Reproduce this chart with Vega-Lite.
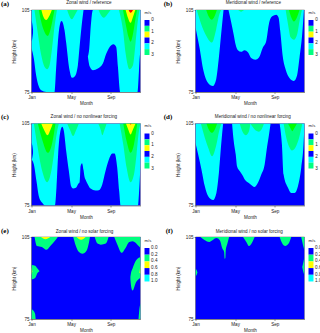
{"$schema":"https://vega.github.io/schema/vega-lite/v6.json","autosize":{"type":"none"},"padding":{"left":31.5,"top":10,"right":288.5,"bottom":323},"background":"white","columns":4,"bounds":"flush","spacing":{"column":4,"row":31.5},"align":"each",
"config":{"font":"Liberation Sans","view":{"stroke":"#555","strokeWidth":0.5},"axis":{"grid":false,"labelFont":"Liberation Sans","titleFont":"Liberation Sans","labelFontSize":4.6,"titleFontSize":4.6,"titleFontWeight":"normal","labelColor":"#222","titleColor":"#222","tickColor":"#333","domainColor":"#333","tickSize":1.5,"tickWidth":0.5,"domainWidth":0.5,"labelPadding":1}},
"datasets":{
"a":[
{"k":0,"r":"bg","m":1,"lo":75,"hi":105},{"k":0,"r":"bg","m":12,"lo":75,"hi":105},
{"k":0.5,"r":"c1","m":1,"lo":91,"hi":105},{"k":0.5,"r":"c1","m":1.24,"lo":87.2,"hi":105},{"k":0.5,"r":"c1","m":1.47,"lo":81,"hi":105},{"k":0.5,"r":"c1","m":1.74,"lo":77,"hi":105},{"k":0.5,"r":"c1","m":1.98,"lo":75.6,"hi":105},{"k":0.5,"r":"c1","m":2.5,"lo":75,"hi":105},{"k":0.5,"r":"c1","m":3.32,"lo":75,"hi":105},{"k":0.5,"r":"c1","m":3.49,"lo":84,"hi":105},{"k":0.5,"r":"c1","m":3.66,"lo":93,"hi":105},{"k":0.5,"r":"c1","m":3.83,"lo":99,"hi":105},{"k":0.5,"r":"c1","m":4.03,"lo":101,"hi":105},{"k":0.5,"r":"c1","m":4.33,"lo":97.7,"hi":105},{"k":0.5,"r":"c1","m":4.5,"lo":93,"hi":105},{"k":0.5,"r":"c1","m":4.84,"lo":83,"hi":105},{"k":0.5,"r":"c1","m":5.1,"lo":80.2,"hi":105},{"k":0.5,"r":"c1","m":5.38,"lo":80.8,"hi":105},{"k":0.5,"r":"c1","m":5.68,"lo":84.8,"hi":105},{"k":0.5,"r":"c1","m":5.85,"lo":91.5,"hi":105},{"k":0.5,"r":"c1","m":6.05,"lo":98.9,"hi":105},{"k":0.5,"r":"c1","m":6.25,"lo":105,"hi":105},
{"k":0.5,"r":"c2","m":6.69,"lo":87.9,"hi":87.9},{"k":0.5,"r":"c2","m":6.83,"lo":84.8,"hi":91},{"k":0.5,"r":"c2","m":6.93,"lo":84,"hi":96.4},{"k":0.5,"r":"c2","m":7.2,"lo":83,"hi":105},{"k":0.5,"r":"c2","m":7.7,"lo":83.6,"hi":105},{"k":0.5,"r":"c2","m":8.2,"lo":85.4,"hi":105},{"k":0.5,"r":"c2","m":8.54,"lo":89,"hi":105},{"k":0.5,"r":"c2","m":9.05,"lo":92.1,"hi":105},{"k":0.5,"r":"c2","m":9.28,"lo":92.5,"hi":105},{"k":0.5,"r":"c2","m":9.55,"lo":91.5,"hi":105},{"k":0.5,"r":"c2","m":9.72,"lo":84.2,"hi":105},{"k":0.5,"r":"c2","m":9.95,"lo":75,"hi":105},{"k":0.5,"r":"c2","m":11.7,"lo":75,"hi":105},{"k":0.5,"r":"c2","m":11.84,"lo":82.4,"hi":105},{"k":0.5,"r":"c2","m":11.9,"lo":86.6,"hi":105},{"k":0.5,"r":"c2","m":12,"lo":90.3,"hi":105},
{"k":0,"r":"b2","m":1,"lo":93.5,"hi":101.3},{"k":0,"r":"b2","m":1.08,"lo":94.5,"hi":100},{"k":0,"r":"b2","m":1.15,"lo":96.5,"hi":98},
{"k":1,"r":"s1","m":1.3,"lo":105,"hi":105},{"k":1,"r":"s1","m":1.64,"lo":96.4,"hi":105},{"k":1,"r":"s1","m":1.98,"lo":88.5,"hi":105},{"k":1,"r":"s1","m":2.31,"lo":84.2,"hi":105},{"k":1,"r":"s1","m":2.58,"lo":83.3,"hi":105},{"k":1,"r":"s1","m":2.82,"lo":84.8,"hi":105},{"k":1,"r":"s1","m":3.09,"lo":91.5,"hi":105},{"k":1,"r":"s1","m":3.32,"lo":98.9,"hi":105},{"k":1,"r":"s1","m":3.56,"lo":105,"hi":105},
{"k":1,"r":"s2","m":4.6,"lo":105,"hi":105},{"k":1,"r":"s2","m":4.8,"lo":103,"hi":105},{"k":1,"r":"s2","m":5.07,"lo":101.6,"hi":105},{"k":1,"r":"s2","m":5.35,"lo":103,"hi":105},{"k":1,"r":"s2","m":5.65,"lo":105,"hi":105},
{"k":1,"r":"s3","m":7.77,"lo":105,"hi":105},{"k":1,"r":"s3","m":8,"lo":103.2,"hi":105},{"k":1,"r":"s3","m":8.3,"lo":102.2,"hi":105},{"k":1,"r":"s3","m":8.6,"lo":103.2,"hi":105},{"k":1,"r":"s3","m":8.98,"lo":105,"hi":105},
{"k":1,"r":"s4","m":9.82,"lo":105,"hi":105},{"k":1,"r":"s4","m":10.23,"lo":97.7,"hi":105},{"k":1,"r":"s4","m":10.5,"lo":89.1,"hi":105},{"k":1,"r":"s4","m":10.9,"lo":83.3,"hi":105},{"k":1,"r":"s4","m":11.24,"lo":84.8,"hi":105},{"k":1,"r":"s4","m":11.5,"lo":92.8,"hi":105},{"k":1,"r":"s4","m":11.74,"lo":101.3,"hi":105},{"k":1,"r":"s4","m":11.9,"lo":105,"hi":105},
{"k":1.5,"r":"g1","m":1.74,"lo":105,"hi":105},{"k":1.5,"r":"g1","m":1.9,"lo":102,"hi":105},{"k":1.5,"r":"g1","m":2.2,"lo":98,"hi":105},{"k":1.5,"r":"g1","m":2.65,"lo":95.5,"hi":105},{"k":1.5,"r":"g1","m":2.85,"lo":97,"hi":105},{"k":1.5,"r":"g1","m":3.05,"lo":100,"hi":105},{"k":1.5,"r":"g1","m":3.32,"lo":105,"hi":105},
{"k":1.5,"r":"g2","m":10.23,"lo":105,"hi":105},{"k":1.5,"r":"g2","m":10.5,"lo":100,"hi":105},{"k":1.5,"r":"g2","m":10.8,"lo":95,"hi":105},{"k":1.5,"r":"g2","m":11,"lo":93.4,"hi":105},{"k":1.5,"r":"g2","m":11.2,"lo":95.5,"hi":105},{"k":1.5,"r":"g2","m":11.5,"lo":102,"hi":105},{"k":1.5,"r":"g2","m":11.65,"lo":105,"hi":105},
{"k":2,"r":"y1","m":2,"lo":105,"hi":105},{"k":2,"r":"y1","m":2.2,"lo":102.5,"hi":105},{"k":2,"r":"y1","m":2.48,"lo":101.3,"hi":105},{"k":2,"r":"y1","m":2.75,"lo":102.5,"hi":105},{"k":2,"r":"y1","m":3.05,"lo":105,"hi":105},
{"k":2,"r":"y2","m":10.5,"lo":105,"hi":105},{"k":2,"r":"y2","m":10.75,"lo":102,"hi":105},{"k":2,"r":"y2","m":11,"lo":100.3,"hi":105},{"k":2,"r":"y2","m":11.2,"lo":102,"hi":105},{"k":2,"r":"y2","m":11.47,"lo":105,"hi":105},
{"k":2.5,"r":"r1","m":10.8,"lo":105,"hi":105},{"k":2.5,"r":"r1","m":11,"lo":104,"hi":105},{"k":2.5,"r":"r1","m":11.25,"lo":105,"hi":105}
],
"b":[
{"k":0,"r":"bg","m":1,"lo":75,"hi":105},{"k":0,"r":"bg","m":12,"lo":75,"hi":105},
{"k":0.5,"r":"c1","m":1,"lo":98.6,"hi":105},{"k":0.5,"r":"c1","m":1.4,"lo":91.3,"hi":105},{"k":0.5,"r":"c1","m":1.81,"lo":82.7,"hi":105},{"k":0.5,"r":"c1","m":2.25,"lo":78.4,"hi":105},{"k":0.5,"r":"c1","m":2.75,"lo":77.2,"hi":105},{"k":0.5,"r":"c1","m":3.09,"lo":79.7,"hi":105},{"k":0.5,"r":"c1","m":3.36,"lo":87.6,"hi":105},{"k":0.5,"r":"c1","m":3.59,"lo":96.2,"hi":105},{"k":0.5,"r":"c1","m":3.83,"lo":105,"hi":105},
{"k":0.5,"r":"c2","m":4.33,"lo":105,"hi":105},{"k":0.5,"r":"c2","m":4.6,"lo":100.5,"hi":105},{"k":0.5,"r":"c2","m":4.84,"lo":96.2,"hi":105},{"k":0.5,"r":"c2","m":5.04,"lo":92.5,"hi":105},{"k":0.5,"r":"c2","m":5.28,"lo":90.3,"hi":105},{"k":0.5,"r":"c2","m":5.61,"lo":89.7,"hi":105},{"k":0.5,"r":"c2","m":5.95,"lo":90.3,"hi":105},{"k":0.5,"r":"c2","m":6.29,"lo":89.5,"hi":105},{"k":0.5,"r":"c2","m":6.62,"lo":87.4,"hi":105},{"k":0.5,"r":"c2","m":7.03,"lo":86.8,"hi":105},{"k":0.5,"r":"c2","m":7.4,"lo":87.6,"hi":105},{"k":0.5,"r":"c2","m":7.8,"lo":91.3,"hi":105},{"k":0.5,"r":"c2","m":8.14,"lo":93.7,"hi":105},{"k":0.5,"r":"c2","m":8.41,"lo":99.9,"hi":105},{"k":0.5,"r":"c2","m":8.74,"lo":102.7,"hi":105},{"k":0.5,"r":"c2","m":9.15,"lo":103.3,"hi":105},{"k":0.5,"r":"c2","m":9.38,"lo":102.3,"hi":105},{"k":0.5,"r":"c2","m":9.55,"lo":97.4,"hi":105},{"k":0.5,"r":"c2","m":9.82,"lo":87.6,"hi":105},{"k":0.5,"r":"c2","m":10.09,"lo":83.3,"hi":105},{"k":0.5,"r":"c2","m":10.5,"lo":80,"hi":105},{"k":0.5,"r":"c2","m":10.93,"lo":79,"hi":105},{"k":0.5,"r":"c2","m":11.24,"lo":80.9,"hi":105},{"k":0.5,"r":"c2","m":11.5,"lo":87.6,"hi":105},{"k":0.5,"r":"c2","m":11.77,"lo":96.2,"hi":105},{"k":0.5,"r":"c2","m":11.94,"lo":105,"hi":105},
{"k":1,"r":"s1","m":1.13,"lo":105,"hi":105},{"k":1,"r":"s1","m":1.57,"lo":99.9,"hi":105},{"k":1,"r":"s1","m":2.08,"lo":95.6,"hi":105},{"k":1,"r":"s1","m":2.65,"lo":93.1,"hi":105},{"k":1,"r":"s1","m":3.09,"lo":98,"hi":105},{"k":1,"r":"s1","m":3.42,"lo":103.5,"hi":105},{"k":1,"r":"s1","m":3.59,"lo":105,"hi":105},
{"k":1,"r":"s2","m":5.3,"lo":105,"hi":105},{"k":1,"r":"s2","m":5.6,"lo":104.4,"hi":105},{"k":1,"r":"s2","m":5.9,"lo":105,"hi":105},
{"k":1,"r":"s3","m":10.1,"lo":105,"hi":105},{"k":1,"r":"s3","m":10.33,"lo":99.9,"hi":105},{"k":1,"r":"s3","m":10.6,"lo":95,"hi":105},{"k":1,"r":"s3","m":10.93,"lo":94.1,"hi":105},{"k":1,"r":"s3","m":11.27,"lo":96.2,"hi":105},{"k":1,"r":"s3","m":11.5,"lo":101,"hi":105},{"k":1,"r":"s3","m":11.74,"lo":105,"hi":105},
{"k":1.5,"r":"g1","m":2.08,"lo":105,"hi":105},{"k":1.5,"r":"g1","m":2.35,"lo":102.5,"hi":105},{"k":1.5,"r":"g1","m":2.65,"lo":101.4,"hi":105},{"k":1.5,"r":"g1","m":2.9,"lo":102.5,"hi":105},{"k":1.5,"r":"g1","m":3.15,"lo":105,"hi":105},
{"k":1.5,"r":"g2","m":10.43,"lo":105,"hi":105},{"k":1.5,"r":"g2","m":10.7,"lo":102,"hi":105},{"k":1.5,"r":"g2","m":10.93,"lo":100.8,"hi":105},{"k":1.5,"r":"g2","m":11.2,"lo":102,"hi":105},{"k":1.5,"r":"g2","m":11.5,"lo":105,"hi":105}
],
"c":[
{"k":0,"r":"bg","m":1,"lo":75,"hi":105},{"k":0,"r":"bg","m":12,"lo":75,"hi":105},
{"k":0.5,"r":"c1","m":1,"lo":91.8,"hi":105},{"k":0.5,"r":"c1","m":1.24,"lo":90,"hi":105},{"k":0.5,"r":"c1","m":1.5,"lo":84,"hi":105},{"k":0.5,"r":"c1","m":1.74,"lo":78.4,"hi":105},{"k":0.5,"r":"c1","m":2.08,"lo":76,"hi":105},{"k":0.5,"r":"c1","m":2.4,"lo":75,"hi":105},{"k":0.5,"r":"c1","m":3.36,"lo":75,"hi":105},{"k":0.5,"r":"c1","m":3.52,"lo":81.5,"hi":105},{"k":0.5,"r":"c1","m":3.69,"lo":93.7,"hi":105},{"k":0.5,"r":"c1","m":3.86,"lo":101,"hi":105},{"k":0.5,"r":"c1","m":4.1,"lo":103.8,"hi":105},{"k":0.5,"r":"c1","m":4.27,"lo":102.2,"hi":105},{"k":0.5,"r":"c1","m":4.5,"lo":94.9,"hi":105},{"k":0.5,"r":"c1","m":4.77,"lo":87.6,"hi":105},{"k":0.5,"r":"c1","m":5,"lo":82,"hi":105},{"k":0.5,"r":"c1","m":5.2,"lo":81.2,"hi":105},{"k":0.5,"r":"c1","m":5.48,"lo":81.5,"hi":105},{"k":0.5,"r":"c1","m":5.71,"lo":82.9,"hi":105},{"k":0.5,"r":"c1","m":5.85,"lo":83.5,"hi":105},{"k":0.5,"r":"c1","m":5.9,"lo":86,"hi":105},{"k":0.5,"r":"c1","m":5.95,"lo":89.4,"hi":105},{"k":0.5,"r":"c1","m":6.1,"lo":90.5,"hi":105},{"k":0.5,"r":"c1","m":6.25,"lo":88,"hi":105},{"k":0.5,"r":"c1","m":6.35,"lo":85.5,"hi":105},{"k":0.5,"r":"c1","m":6.45,"lo":84.5,"hi":105},{"k":0.5,"r":"c1","m":6.69,"lo":82.7,"hi":105},{"k":0.5,"r":"c1","m":6.96,"lo":81.2,"hi":105},{"k":0.5,"r":"c1","m":7.46,"lo":80.5,"hi":105},{"k":0.5,"r":"c1","m":7.8,"lo":80.6,"hi":105},{"k":0.5,"r":"c1","m":8.14,"lo":82.7,"hi":105},{"k":0.5,"r":"c1","m":8.47,"lo":87.6,"hi":105},{"k":0.5,"r":"c1","m":8.81,"lo":91.8,"hi":105},{"k":0.5,"r":"c1","m":9.15,"lo":94,"hi":105},{"k":0.5,"r":"c1","m":9.38,"lo":94,"hi":105},{"k":0.5,"r":"c1","m":9.65,"lo":88.8,"hi":105},{"k":0.5,"r":"c1","m":9.85,"lo":80.2,"hi":105},{"k":0.5,"r":"c1","m":9.99,"lo":75,"hi":105},{"k":0.5,"r":"c1","m":11.74,"lo":75,"hi":105},{"k":0.5,"r":"c1","m":11.84,"lo":79,"hi":105},{"k":0.5,"r":"c1","m":12,"lo":90,"hi":105},
{"k":0,"r":"b2","m":1,"lo":91.8,"hi":98},{"k":0,"r":"b2","m":1.08,"lo":92.5,"hi":97},{"k":0,"r":"b2","m":1.15,"lo":94,"hi":95},
{"k":1,"r":"s1","m":1.24,"lo":105,"hi":105},{"k":1,"r":"s1","m":1.57,"lo":97.3,"hi":105},{"k":1,"r":"s1","m":2.08,"lo":87.6,"hi":105},{"k":1,"r":"s1","m":2.58,"lo":83.5,"hi":105},{"k":1,"r":"s1","m":2.92,"lo":86.3,"hi":105},{"k":1,"r":"s1","m":3.26,"lo":93.7,"hi":105},{"k":1,"r":"s1","m":3.59,"lo":102.2,"hi":105},{"k":1,"r":"s1","m":3.76,"lo":105,"hi":105},
{"k":1,"r":"s2","m":4.6,"lo":105,"hi":105},{"k":1,"r":"s2","m":4.9,"lo":102.5,"hi":105},{"k":1,"r":"s2","m":5.2,"lo":100.4,"hi":105},{"k":1,"r":"s2","m":5.5,"lo":102.5,"hi":105},{"k":1,"r":"s2","m":5.78,"lo":105,"hi":105},
{"k":1,"r":"s3","m":7.73,"lo":105,"hi":105},{"k":1,"r":"s3","m":8,"lo":102.5,"hi":105},{"k":1,"r":"s3","m":8.14,"lo":100.7,"hi":105},{"k":1,"r":"s3","m":8.35,"lo":102.5,"hi":105},{"k":1,"r":"s3","m":8.58,"lo":105,"hi":105},
{"k":1,"r":"s4","m":9.89,"lo":105,"hi":105},{"k":1,"r":"s4","m":10.26,"lo":97.3,"hi":105},{"k":1,"r":"s4","m":10.6,"lo":88.8,"hi":105},{"k":1,"r":"s4","m":11,"lo":83.5,"hi":105},{"k":1,"r":"s4","m":11.34,"lo":86.3,"hi":105},{"k":1,"r":"s4","m":11.6,"lo":93.7,"hi":105},{"k":1,"r":"s4","m":11.84,"lo":102.2,"hi":105},{"k":1,"r":"s4","m":12,"lo":105,"hi":105},
{"k":1.5,"r":"g1","m":1.64,"lo":105,"hi":105},{"k":1.5,"r":"g1","m":2.08,"lo":99.1,"hi":105},{"k":1.5,"r":"g1","m":2.65,"lo":94.3,"hi":105},{"k":1.5,"r":"g1","m":3.09,"lo":97.9,"hi":105},{"k":1.5,"r":"g1","m":3.42,"lo":105,"hi":105},
{"k":1.5,"r":"g2","m":10.26,"lo":105,"hi":105},{"k":1.5,"r":"g2","m":10.6,"lo":98.5,"hi":105},{"k":1.5,"r":"g2","m":11,"lo":94.3,"hi":105},{"k":1.5,"r":"g2","m":11.34,"lo":97.3,"hi":105},{"k":1.5,"r":"g2","m":11.67,"lo":105,"hi":105},
{"k":2,"r":"y1","m":1.98,"lo":105,"hi":105},{"k":2,"r":"y1","m":2.25,"lo":102.8,"hi":105},{"k":2,"r":"y1","m":2.62,"lo":100.7,"hi":105},{"k":2,"r":"y1","m":2.92,"lo":102.8,"hi":105},{"k":2,"r":"y1","m":3.15,"lo":105,"hi":105},
{"k":2,"r":"y2","m":10.53,"lo":105,"hi":105},{"k":2,"r":"y2","m":10.76,"lo":102.8,"hi":105},{"k":2,"r":"y2","m":11,"lo":101,"hi":105},{"k":2,"r":"y2","m":11.24,"lo":102.8,"hi":105},{"k":2,"r":"y2","m":11.5,"lo":105,"hi":105},
{"k":2.5,"r":"r1","m":10.9,"lo":105,"hi":105},{"k":2.5,"r":"r1","m":11,"lo":104.6,"hi":105},{"k":2.5,"r":"r1","m":11.1,"lo":105,"hi":105}
],
"d":[
{"k":0,"r":"bg","m":1,"lo":75,"hi":105},{"k":0,"r":"bg","m":12,"lo":75,"hi":105},
{"k":0.5,"r":"c1","m":1,"lo":97.9,"hi":105},{"k":0.5,"r":"c1","m":1.27,"lo":93.7,"hi":105},{"k":0.5,"r":"c1","m":1.6,"lo":88.2,"hi":105},{"k":0.5,"r":"c1","m":1.94,"lo":82,"hi":105},{"k":0.5,"r":"c1","m":2.28,"lo":78.4,"hi":105},{"k":0.5,"r":"c1","m":2.78,"lo":77,"hi":105},{"k":0.5,"r":"c1","m":3.11,"lo":79.6,"hi":105},{"k":0.5,"r":"c1","m":3.38,"lo":87.6,"hi":105},{"k":0.5,"r":"c1","m":3.62,"lo":98.5,"hi":105},{"k":0.5,"r":"c1","m":3.79,"lo":105,"hi":105},
{"k":0.5,"r":"c2","m":4.69,"lo":105,"hi":105},{"k":0.5,"r":"c2","m":4.86,"lo":98.5,"hi":105},{"k":0.5,"r":"c2","m":5.06,"lo":93.7,"hi":105},{"k":0.5,"r":"c2","m":5.19,"lo":89.4,"hi":105},{"k":0.5,"r":"c2","m":5.46,"lo":87.6,"hi":105},{"k":0.5,"r":"c2","m":5.8,"lo":85.7,"hi":105},{"k":0.5,"r":"c2","m":5.97,"lo":84.5,"hi":105},{"k":0.5,"r":"c2","m":6.47,"lo":83,"hi":105},{"k":0.5,"r":"c2","m":6.97,"lo":81.8,"hi":105},{"k":0.5,"r":"c2","m":7.3,"lo":83.3,"hi":105},{"k":0.5,"r":"c2","m":7.64,"lo":86.3,"hi":105},{"k":0.5,"r":"c2","m":7.98,"lo":90,"hi":105},{"k":0.5,"r":"c2","m":8.21,"lo":96.1,"hi":105},{"k":0.5,"r":"c2","m":8.42,"lo":101,"hi":105},{"k":0.5,"r":"c2","m":8.58,"lo":105,"hi":105},
{"k":0.5,"r":"c3","m":9.49,"lo":105,"hi":105},{"k":0.5,"r":"c3","m":9.72,"lo":97.3,"hi":105},{"k":0.5,"r":"c3","m":9.89,"lo":86.3,"hi":105},{"k":0.5,"r":"c3","m":10.33,"lo":81.5,"hi":105},{"k":0.5,"r":"c3","m":10.66,"lo":79.6,"hi":105},{"k":0.5,"r":"c3","m":11,"lo":79.6,"hi":105},{"k":0.5,"r":"c3","m":11.34,"lo":82,"hi":105},{"k":0.5,"r":"c3","m":11.67,"lo":88.8,"hi":105},{"k":0.5,"r":"c3","m":11.9,"lo":97.3,"hi":105},{"k":0.5,"r":"c3","m":12,"lo":105,"hi":105},
{"k":1,"r":"s1","m":1.54,"lo":105,"hi":105},{"k":1,"r":"s1","m":1.94,"lo":99.8,"hi":105},{"k":1,"r":"s1","m":2.28,"lo":96.1,"hi":105},{"k":1,"r":"s1","m":2.68,"lo":93,"hi":105},{"k":1,"r":"s1","m":3.11,"lo":97.3,"hi":105},{"k":1,"r":"s1","m":3.38,"lo":102.2,"hi":105},{"k":1,"r":"s1","m":3.62,"lo":105,"hi":105},
{"k":1,"r":"s2","m":5.46,"lo":105,"hi":105},{"k":1,"r":"s2","m":5.8,"lo":101.6,"hi":105},{"k":1,"r":"s2","m":6.07,"lo":100.7,"hi":105},{"k":1,"r":"s2","m":6.4,"lo":102.2,"hi":105},{"k":1,"r":"s2","m":6.54,"lo":105,"hi":105},
{"k":1,"r":"s3","m":6.54,"lo":105,"hi":105},{"k":1,"r":"s3","m":6.97,"lo":102.8,"hi":105},{"k":1,"r":"s3","m":7.41,"lo":102,"hi":105},{"k":1,"r":"s3","m":7.75,"lo":103.4,"hi":105},{"k":1,"r":"s3","m":7.91,"lo":105,"hi":105},
{"k":1,"r":"s4","m":9.89,"lo":105,"hi":105},{"k":1,"r":"s4","m":10.16,"lo":99.8,"hi":105},{"k":1,"r":"s4","m":10.5,"lo":96.1,"hi":105},{"k":1,"r":"s4","m":10.73,"lo":95.1,"hi":105},{"k":1,"r":"s4","m":11.07,"lo":96.1,"hi":105},{"k":1,"r":"s4","m":11.5,"lo":100.4,"hi":105},{"k":1,"r":"s4","m":11.77,"lo":105,"hi":105},
{"k":1.5,"r":"g1","m":2.1,"lo":105,"hi":105},{"k":1.5,"r":"g1","m":2.44,"lo":102.2,"hi":105},{"k":1.5,"r":"g1","m":2.68,"lo":101.6,"hi":105},{"k":1.5,"r":"g1","m":2.95,"lo":102.8,"hi":105},{"k":1.5,"r":"g1","m":3.18,"lo":105,"hi":105},
{"k":1.5,"r":"g2","m":10.33,"lo":105,"hi":105},{"k":1.5,"r":"g2","m":10.56,"lo":103.4,"hi":105},{"k":1.5,"r":"g2","m":10.77,"lo":102.2,"hi":105},{"k":1.5,"r":"g2","m":11,"lo":103.4,"hi":105},{"k":1.5,"r":"g2","m":11.24,"lo":105,"hi":105}
],
"e":[
{"k":0,"r":"bg","m":1,"lo":75,"hi":105},{"k":0,"r":"bg","m":12,"lo":75,"hi":105},
{"k":1,"r":"c1","m":1.31,"lo":105,"hi":105},{"k":1,"r":"c1","m":1.54,"lo":101.7,"hi":105},{"k":1,"r":"c1","m":2.05,"lo":101.3,"hi":105},{"k":1,"r":"c1","m":2.49,"lo":100.3,"hi":105},{"k":1,"r":"c1","m":2.9,"lo":101.7,"hi":105},{"k":1,"r":"c1","m":3.41,"lo":103.8,"hi":105},{"k":1,"r":"c1","m":3.65,"lo":105,"hi":105},
{"k":1,"r":"c2","m":5.21,"lo":105,"hi":105},{"k":1,"r":"c2","m":5.45,"lo":102,"hi":105},{"k":1,"r":"c2","m":5.79,"lo":99.5,"hi":105},{"k":1,"r":"c2","m":6.13,"lo":98.9,"hi":105},{"k":1,"r":"c2","m":6.57,"lo":100.1,"hi":105},{"k":1,"r":"c2","m":6.81,"lo":103.2,"hi":105},{"k":1,"r":"c2","m":6.9,"lo":105,"hi":105},
{"k":1,"r":"c3","m":7.38,"lo":105,"hi":105},{"k":1,"r":"c3","m":7.66,"lo":102.6,"hi":105},{"k":1,"r":"c3","m":8,"lo":102.2,"hi":105},{"k":1,"r":"c3","m":8.5,"lo":102.6,"hi":105},{"k":1,"r":"c3","m":8.78,"lo":105,"hi":105},
{"k":1,"r":"c4","m":9.35,"lo":105,"hi":105},{"k":1,"r":"c4","m":9.69,"lo":102,"hi":105},{"k":1,"r":"c4","m":10.1,"lo":99.2,"hi":105},{"k":1,"r":"c4","m":10.44,"lo":100.7,"hi":105},{"k":1,"r":"c4","m":10.88,"lo":103.2,"hi":105},{"k":1,"r":"c4","m":11.22,"lo":103.4,"hi":105},{"k":1,"r":"c4","m":11.73,"lo":102,"hi":105},{"k":1,"r":"c4","m":12,"lo":101,"hi":105},
{"k":1,"r":"c5","m":1,"lo":89.5,"hi":94.8},{"k":1,"r":"c5","m":1.37,"lo":90,"hi":94.5},{"k":1,"r":"c5","m":1.6,"lo":91.8,"hi":93.5},{"k":1,"r":"c5","m":1.81,"lo":92.5,"hi":92.5},
{"k":1,"r":"c6","m":1,"lo":75,"hi":78.7},{"k":1,"r":"c6","m":1.2,"lo":75,"hi":78},{"k":1,"r":"c6","m":1.37,"lo":75,"hi":76.8},{"k":1,"r":"c6","m":1.42,"lo":75,"hi":75},
{"k":1,"r":"c7","m":10.98,"lo":89.5,"hi":90.5},{"k":1,"r":"c7","m":11.05,"lo":87,"hi":92},{"k":1,"r":"c7","m":11.2,"lo":85.4,"hi":93.5},{"k":1,"r":"c7","m":11.56,"lo":88.5,"hi":96.5},{"k":1,"r":"c7","m":12,"lo":90,"hi":97.7},
{"k":1,"r":"c8","m":11.8,"lo":75,"hi":75},{"k":1,"r":"c8","m":11.9,"lo":75,"hi":79},{"k":1,"r":"c8","m":12,"lo":75,"hi":80.7},
{"k":2,"r":"g1","m":1.95,"lo":105,"hi":105},{"k":2,"r":"g1","m":2.4,"lo":104.2,"hi":105},{"k":2,"r":"g1","m":2.9,"lo":105,"hi":105},
{"k":2,"r":"g2","m":5.55,"lo":105,"hi":105},{"k":2,"r":"g2","m":6,"lo":104,"hi":105},{"k":2,"r":"g2","m":6.47,"lo":105,"hi":105},
{"k":2,"r":"g3","m":1,"lo":91,"hi":94},{"k":2,"r":"g3","m":1.08,"lo":92.5,"hi":92.5},
{"k":2,"r":"g4","m":11.9,"lo":92,"hi":92},{"k":2,"r":"g4","m":12,"lo":91.5,"hi":95}
],
"f":[
{"k":0,"r":"bg","m":1,"lo":75,"hi":105},{"k":0,"r":"bg","m":12,"lo":75,"hi":105},
{"k":1,"r":"c1","m":1.5,"lo":105,"hi":105},{"k":1,"r":"c1","m":1.94,"lo":103.8,"hi":105},{"k":1,"r":"c1","m":2.38,"lo":103.2,"hi":105},{"k":1,"r":"c1","m":2.78,"lo":104,"hi":105},{"k":1,"r":"c1","m":3.11,"lo":104.6,"hi":105},{"k":1,"r":"c1","m":3.45,"lo":103.8,"hi":105},{"k":1,"r":"c1","m":3.72,"lo":100.7,"hi":105},{"k":1,"r":"c1","m":3.89,"lo":99.5,"hi":105},{"k":1,"r":"c1","m":3.95,"lo":97,"hi":105},{"k":1,"r":"c1","m":4.02,"lo":97.3,"hi":105},{"k":1,"r":"c1","m":4.05,"lo":100,"hi":105},{"k":1,"r":"c1","m":4.22,"lo":102.6,"hi":105},{"k":1,"r":"c1","m":4.39,"lo":105,"hi":105},
{"k":1,"r":"c2","m":5.8,"lo":105,"hi":105},{"k":1,"r":"c2","m":6.13,"lo":103.2,"hi":105},{"k":1,"r":"c2","m":6.4,"lo":101.7,"hi":105},{"k":1,"r":"c2","m":6.7,"lo":102.9,"hi":105},{"k":1,"r":"c2","m":6.97,"lo":105,"hi":105},
{"k":1,"r":"c3","m":9.49,"lo":105,"hi":105},{"k":1,"r":"c3","m":9.72,"lo":102.9,"hi":105},{"k":1,"r":"c3","m":10.06,"lo":101.7,"hi":105},{"k":1,"r":"c3","m":10.4,"lo":102.6,"hi":105},{"k":1,"r":"c3","m":10.66,"lo":105,"hi":105},
{"k":1,"r":"c4","m":11.67,"lo":105,"hi":105},{"k":1,"r":"c4","m":11.85,"lo":102,"hi":105},{"k":1,"r":"c4","m":12,"lo":100,"hi":105},
{"k":1,"r":"c5","m":11.77,"lo":94,"hi":94},{"k":1,"r":"c5","m":11.9,"lo":92,"hi":96},{"k":1,"r":"c5","m":12,"lo":91,"hi":98},
{"k":1,"r":"c6","m":1,"lo":90.7,"hi":93.4},{"k":1,"r":"c6","m":1.1,"lo":91,"hi":93},{"k":1,"r":"c6","m":1.2,"lo":92,"hi":92}
],
"lw":[{"k":0,"v0":0,"v1":0.5},{"k":1,"v0":0.5,"v1":1},{"k":2,"v0":1,"v1":1.5},{"k":3,"v0":1.5,"v1":2},{"k":4,"v0":2,"v1":2.5},{"k":5,"v0":2.5,"v1":3}],
"lwt":[{"v":0,"t":"0"},{"v":1,"t":"1"},{"v":2,"t":"2"},{"v":3,"t":"3"}],
"ls":[{"k":0,"v0":0,"v1":0.2},{"k":1,"v0":0.2,"v1":0.4},{"k":2,"v0":0.4,"v1":0.6},{"k":3,"v0":0.6,"v1":0.8},{"k":4,"v0":0.8,"v1":1}],
"lst":[{"v":0,"t":"0.0"},{"v":0.2,"t":"0.2"},{"v":0.4,"t":"0.4"},{"v":0.6,"t":"0.6"},{"v":0.8,"t":"0.8"},{"v":1,"t":"1.0"}]
},
"concat":[
{"width":109,"height":82,"layer":[{"data":{"name":"a"},"mark":{"type":"area","interpolate":"monotone","orient":"vertical","clip":true},"encoding":{"x":{"field":"m","type":"quantitative","scale":{"domain":[1,12],"nice":false,"zero":false},"axis":{"labelOverlap":false,"labelFlush":false,"values":[1,1.5,2,2.5,3,3.5,4,4.5,5,5.5,6,6.5,7,7.5,8,8.5,9,9.5,10,10.5,11,11.5,12],"labelExpr":"datum.value%1?'':['Jan','Feb','Mar','Apr','May','Jun','Jul','Aug','Sep','Oct','Nov','Dec'][datum.value-1]","title":"Month","titlePadding":1.5}},"y":{"field":"lo","type":"quantitative","scale":{"domain":[75,105],"nice":false,"zero":false},"axis":{"labelOverlap":false,"labelFlush":false,"values":[75,77.5,80,82.5,85,87.5,90,92.5,95,97.5,100,102.5,105],"labelExpr":"datum.value%5?'':datum.value","title":"Height (km)","titlePadding":5}},"y2":{"field":"hi"},"fill":{"field":"k","type":"ordinal","scale":{"domain":[0,0.5,1,1.5,2,2.5],"range":["#0000ff","#00ffff","#00ff80","#00ff00","#ffff00","#ff0000"]},"legend":null},"detail":{"field":"r"}}},{"data":{"values":[{"m":-2.08,"h":107.3,"t":"(a)"}]},"mark":{"type":"text","font":"Liberation Serif","fontWeight":"bold","fontSize":7,"align":"left","baseline":"middle"},"encoding":{"x":{"field":"m","type":"quantitative"},"y":{"field":"h","type":"quantitative"},"text":{"field":"t"}}},{"data":{"values":[{"m":6.79,"h":107.45,"t":"Zonal wind / reference"}]},"mark":{"type":"text","fontSize":4.6,"color":"#222","align":"center","baseline":"middle"},"encoding":{"x":{"field":"m","type":"quantitative"},"y":{"field":"h","type":"quantitative"},"text":{"field":"t"}}}]},
{"width":47,"height":82,"view":{"stroke":null},"layer":[{"data":{"name":"lw"},"mark":"rect","encoding":{"x":{"datum":0,"type":"quantitative","scale":{"domain":[0,47]},"axis":null},"x2":{"datum":5.3},"y":{"field":"v0","type":"quantitative","scale":{"domain":[-0.857,6.17],"reverse":true,"nice":false,"zero":false},"axis":null},"y2":{"field":"v1"},"fill":{"field":"k","type":"ordinal","scale":{"domain":[0,1,2,3,4,5],"range":["#0000ff","#00ffff","#00ff80","#00ff00","#ffff00","#ff0000"]},"legend":null}}},{"data":{"name":"lwt"},"mark":{"type":"text","align":"left","baseline":"middle","fontSize":4.6,"color":"#222"},"encoding":{"x":{"datum":7.3,"type":"quantitative"},"y":{"field":"v","type":"quantitative"},"text":{"field":"t"}}},{"data":{"values":[{"v":-0.62,"t":"m/s"}]},"mark":{"type":"text","align":"left","baseline":"middle","fontSize":4.2,"color":"#222"},"encoding":{"x":{"datum":0,"type":"quantitative"},"y":{"field":"v","type":"quantitative"},"text":{"field":"t"}}}]},
{"width":109,"height":82,"layer":[{"data":{"name":"b"},"mark":{"type":"area","interpolate":"monotone","orient":"vertical","clip":true},"encoding":{"x":{"field":"m","type":"quantitative","scale":{"domain":[1,12],"nice":false,"zero":false},"axis":{"labelOverlap":false,"labelFlush":false,"values":[1,1.5,2,2.5,3,3.5,4,4.5,5,5.5,6,6.5,7,7.5,8,8.5,9,9.5,10,10.5,11,11.5,12],"labelExpr":"datum.value%1?'':['Jan','Feb','Mar','Apr','May','Jun','Jul','Aug','Sep','Oct','Nov','Dec'][datum.value-1]","title":"Month","titlePadding":1.5}},"y":{"field":"lo","type":"quantitative","scale":{"domain":[75,105],"nice":false,"zero":false},"axis":{"labelOverlap":false,"labelFlush":false,"values":[75,77.5,80,82.5,85,87.5,90,92.5,95,97.5,100,102.5,105],"labelExpr":"datum.value%5?'':datum.value","title":"Height (km)","titlePadding":5}},"y2":{"field":"hi"},"fill":{"field":"k","type":"ordinal","scale":{"domain":[0,0.5,1,1.5,2,2.5],"range":["#0000ff","#00ffff","#00ff80","#00ff00","#ffff00","#ff0000"]},"legend":null},"detail":{"field":"r"}}},{"data":{"values":[{"m":-2.2,"h":107.3,"t":"(b)"}]},"mark":{"type":"text","font":"Liberation Serif","fontWeight":"bold","fontSize":7,"align":"left","baseline":"middle"},"encoding":{"x":{"field":"m","type":"quantitative"},"y":{"field":"h","type":"quantitative"},"text":{"field":"t"}}},{"data":{"values":[{"m":6.84,"h":107.45,"t":"Meridional wind / reference"}]},"mark":{"type":"text","fontSize":4.6,"color":"#222","align":"center","baseline":"middle"},"encoding":{"x":{"field":"m","type":"quantitative"},"y":{"field":"h","type":"quantitative"},"text":{"field":"t"}}}]},
{"width":47,"height":82,"view":{"stroke":null},"layer":[{"data":{"name":"lw"},"mark":"rect","encoding":{"x":{"datum":0,"type":"quantitative","scale":{"domain":[0,47]},"axis":null},"x2":{"datum":5.3},"y":{"field":"v0","type":"quantitative","scale":{"domain":[-0.857,6.17],"reverse":true,"nice":false,"zero":false},"axis":null},"y2":{"field":"v1"},"fill":{"field":"k","type":"ordinal","scale":{"domain":[0,1,2,3,4,5],"range":["#0000ff","#00ffff","#00ff80","#00ff00","#ffff00","#ff0000"]},"legend":null}}},{"data":{"name":"lwt"},"mark":{"type":"text","align":"left","baseline":"middle","fontSize":4.6,"color":"#222"},"encoding":{"x":{"datum":7.3,"type":"quantitative"},"y":{"field":"v","type":"quantitative"},"text":{"field":"t"}}},{"data":{"values":[{"v":-0.62,"t":"m/s"}]},"mark":{"type":"text","align":"left","baseline":"middle","fontSize":4.2,"color":"#222"},"encoding":{"x":{"datum":0,"type":"quantitative"},"y":{"field":"v","type":"quantitative"},"text":{"field":"t"}}}]},
{"width":109,"height":82,"layer":[{"data":{"name":"c"},"mark":{"type":"area","interpolate":"monotone","orient":"vertical","clip":true},"encoding":{"x":{"field":"m","type":"quantitative","scale":{"domain":[1,12],"nice":false,"zero":false},"axis":{"labelOverlap":false,"labelFlush":false,"values":[1,1.5,2,2.5,3,3.5,4,4.5,5,5.5,6,6.5,7,7.5,8,8.5,9,9.5,10,10.5,11,11.5,12],"labelExpr":"datum.value%1?'':['Jan','Feb','Mar','Apr','May','Jun','Jul','Aug','Sep','Oct','Nov','Dec'][datum.value-1]","title":"Month","titlePadding":1.5}},"y":{"field":"lo","type":"quantitative","scale":{"domain":[75,105],"nice":false,"zero":false},"axis":{"labelOverlap":false,"labelFlush":false,"values":[75,77.5,80,82.5,85,87.5,90,92.5,95,97.5,100,102.5,105],"labelExpr":"datum.value%5?'':datum.value","title":"Height (km)","titlePadding":5}},"y2":{"field":"hi"},"fill":{"field":"k","type":"ordinal","scale":{"domain":[0,0.5,1,1.5,2,2.5],"range":["#0000ff","#00ffff","#00ff80","#00ff00","#ffff00","#ff0000"]},"legend":null},"detail":{"field":"r"}}},{"data":{"values":[{"m":-2.08,"h":107.2,"t":"(c)"}]},"mark":{"type":"text","font":"Liberation Serif","fontWeight":"bold","fontSize":7,"align":"left","baseline":"middle"},"encoding":{"x":{"field":"m","type":"quantitative"},"y":{"field":"h","type":"quantitative"},"text":{"field":"t"}}},{"data":{"values":[{"m":6.28,"h":107.2,"t":"Zonal wind / no nonlinear forcing"}]},"mark":{"type":"text","fontSize":4.6,"color":"#222","align":"center","baseline":"middle"},"encoding":{"x":{"field":"m","type":"quantitative"},"y":{"field":"h","type":"quantitative"},"text":{"field":"t"}}}]},
{"width":47,"height":82,"view":{"stroke":null},"layer":[{"data":{"name":"lw"},"mark":"rect","encoding":{"x":{"datum":0,"type":"quantitative","scale":{"domain":[0,47]},"axis":null},"x2":{"datum":5.3},"y":{"field":"v0","type":"quantitative","scale":{"domain":[-0.857,6.17],"reverse":true,"nice":false,"zero":false},"axis":null},"y2":{"field":"v1"},"fill":{"field":"k","type":"ordinal","scale":{"domain":[0,1,2,3,4,5],"range":["#0000ff","#00ffff","#00ff80","#00ff00","#ffff00","#ff0000"]},"legend":null}}},{"data":{"name":"lwt"},"mark":{"type":"text","align":"left","baseline":"middle","fontSize":4.6,"color":"#222"},"encoding":{"x":{"datum":7.3,"type":"quantitative"},"y":{"field":"v","type":"quantitative"},"text":{"field":"t"}}},{"data":{"values":[{"v":-0.62,"t":"m/s"}]},"mark":{"type":"text","align":"left","baseline":"middle","fontSize":4.2,"color":"#222"},"encoding":{"x":{"datum":0,"type":"quantitative"},"y":{"field":"v","type":"quantitative"},"text":{"field":"t"}}}]},
{"width":109,"height":82,"layer":[{"data":{"name":"d"},"mark":{"type":"area","interpolate":"monotone","orient":"vertical","clip":true},"encoding":{"x":{"field":"m","type":"quantitative","scale":{"domain":[1,12],"nice":false,"zero":false},"axis":{"labelOverlap":false,"labelFlush":false,"values":[1,1.5,2,2.5,3,3.5,4,4.5,5,5.5,6,6.5,7,7.5,8,8.5,9,9.5,10,10.5,11,11.5,12],"labelExpr":"datum.value%1?'':['Jan','Feb','Mar','Apr','May','Jun','Jul','Aug','Sep','Oct','Nov','Dec'][datum.value-1]","title":"Month","titlePadding":1.5}},"y":{"field":"lo","type":"quantitative","scale":{"domain":[75,105],"nice":false,"zero":false},"axis":{"labelOverlap":false,"labelFlush":false,"values":[75,77.5,80,82.5,85,87.5,90,92.5,95,97.5,100,102.5,105],"labelExpr":"datum.value%5?'':datum.value","title":"Height (km)","titlePadding":5}},"y2":{"field":"hi"},"fill":{"field":"k","type":"ordinal","scale":{"domain":[0,0.5,1,1.5,2,2.5],"range":["#0000ff","#00ffff","#00ff80","#00ff00","#ffff00","#ff0000"]},"legend":null},"detail":{"field":"r"}}},{"data":{"values":[{"m":-2.2,"h":107.2,"t":"(d)"}]},"mark":{"type":"text","font":"Liberation Serif","fontWeight":"bold","fontSize":7,"align":"left","baseline":"middle"},"encoding":{"x":{"field":"m","type":"quantitative"},"y":{"field":"h","type":"quantitative"},"text":{"field":"t"}}},{"data":{"values":[{"m":6.79,"h":107.2,"t":"Meridional wind / no nonlinear forcing"}]},"mark":{"type":"text","fontSize":4.6,"color":"#222","align":"center","baseline":"middle"},"encoding":{"x":{"field":"m","type":"quantitative"},"y":{"field":"h","type":"quantitative"},"text":{"field":"t"}}}]},
{"width":47,"height":82,"view":{"stroke":null},"layer":[{"data":{"name":"lw"},"mark":"rect","encoding":{"x":{"datum":0,"type":"quantitative","scale":{"domain":[0,47]},"axis":null},"x2":{"datum":5.3},"y":{"field":"v0","type":"quantitative","scale":{"domain":[-0.857,6.17],"reverse":true,"nice":false,"zero":false},"axis":null},"y2":{"field":"v1"},"fill":{"field":"k","type":"ordinal","scale":{"domain":[0,1,2,3,4,5],"range":["#0000ff","#00ffff","#00ff80","#00ff00","#ffff00","#ff0000"]},"legend":null}}},{"data":{"name":"lwt"},"mark":{"type":"text","align":"left","baseline":"middle","fontSize":4.6,"color":"#222"},"encoding":{"x":{"datum":7.3,"type":"quantitative"},"y":{"field":"v","type":"quantitative"},"text":{"field":"t"}}},{"data":{"values":[{"v":-0.62,"t":"m/s"}]},"mark":{"type":"text","align":"left","baseline":"middle","fontSize":4.2,"color":"#222"},"encoding":{"x":{"datum":0,"type":"quantitative"},"y":{"field":"v","type":"quantitative"},"text":{"field":"t"}}}]},
{"width":109,"height":82,"layer":[{"data":{"name":"e"},"mark":{"type":"area","interpolate":"monotone","orient":"vertical","clip":true},"encoding":{"x":{"field":"m","type":"quantitative","scale":{"domain":[1,12],"nice":false,"zero":false},"axis":{"labelOverlap":false,"labelFlush":false,"values":[1,1.5,2,2.5,3,3.5,4,4.5,5,5.5,6,6.5,7,7.5,8,8.5,9,9.5,10,10.5,11,11.5,12],"labelExpr":"datum.value%1?'':['Jan','Feb','Mar','Apr','May','Jun','Jul','Aug','Sep','Oct','Nov','Dec'][datum.value-1]","title":"Month","titlePadding":1.5}},"y":{"field":"lo","type":"quantitative","scale":{"domain":[75,105],"nice":false,"zero":false},"axis":{"labelOverlap":false,"labelFlush":false,"values":[75,77.5,80,82.5,85,87.5,90,92.5,95,97.5,100,102.5,105],"labelExpr":"datum.value%5?'':datum.value","title":"Height (km)","titlePadding":5}},"y2":{"field":"hi"},"fill":{"field":"k","type":"ordinal","scale":{"domain":[0,1,2,3,4],"range":["#0000ff","#00ffff","#00ff00","#ffff00","#ff0000"]},"legend":null},"detail":{"field":"r"}}},{"data":{"values":[{"m":-2.08,"h":107.2,"t":"(e)"}]},"mark":{"type":"text","font":"Liberation Serif","fontWeight":"bold","fontSize":7,"align":"left","baseline":"middle"},"encoding":{"x":{"field":"m","type":"quantitative"},"y":{"field":"h","type":"quantitative"},"text":{"field":"t"}}},{"data":{"values":[{"m":6.35,"h":107,"t":"Zonal wind / no solar forcing"}]},"mark":{"type":"text","fontSize":4.6,"color":"#222","align":"center","baseline":"middle"},"encoding":{"x":{"field":"m","type":"quantitative"},"y":{"field":"h","type":"quantitative"},"text":{"field":"t"}}}]},
{"width":47,"height":82,"view":{"stroke":null},"layer":[{"data":{"name":"ls"},"mark":"rect","encoding":{"x":{"datum":0,"type":"quantitative","scale":{"domain":[0,47]},"axis":null},"x2":{"datum":5.3},"y":{"field":"v0","type":"quantitative","scale":{"domain":[-0.328,2.12],"reverse":true,"nice":false,"zero":false},"axis":null},"y2":{"field":"v1"},"fill":{"field":"k","type":"ordinal","scale":{"domain":[0,1,2,3,4],"range":["#0000ff","#00ffff","#00ff00","#ffff00","#ff0000"]},"legend":null}}},{"data":{"name":"lst"},"mark":{"type":"text","align":"left","baseline":"middle","fontSize":4.6,"color":"#222"},"encoding":{"x":{"datum":7,"type":"quantitative"},"y":{"field":"v","type":"quantitative"},"text":{"field":"t"}}},{"data":{"values":[{"v":-0.21,"t":"m/s"}]},"mark":{"type":"text","align":"left","baseline":"middle","fontSize":4.2,"color":"#222"},"encoding":{"x":{"datum":0,"type":"quantitative"},"y":{"field":"v","type":"quantitative"},"text":{"field":"t"}}}]},
{"width":109,"height":82,"layer":[{"data":{"name":"f"},"mark":{"type":"area","interpolate":"monotone","orient":"vertical","clip":true},"encoding":{"x":{"field":"m","type":"quantitative","scale":{"domain":[1,12],"nice":false,"zero":false},"axis":{"labelOverlap":false,"labelFlush":false,"values":[1,1.5,2,2.5,3,3.5,4,4.5,5,5.5,6,6.5,7,7.5,8,8.5,9,9.5,10,10.5,11,11.5,12],"labelExpr":"datum.value%1?'':['Jan','Feb','Mar','Apr','May','Jun','Jul','Aug','Sep','Oct','Nov','Dec'][datum.value-1]","title":"Month","titlePadding":1.5}},"y":{"field":"lo","type":"quantitative","scale":{"domain":[75,105],"nice":false,"zero":false},"axis":{"labelOverlap":false,"labelFlush":false,"values":[75,77.5,80,82.5,85,87.5,90,92.5,95,97.5,100,102.5,105],"labelExpr":"datum.value%5?'':datum.value","title":"Height (km)","titlePadding":5}},"y2":{"field":"hi"},"fill":{"field":"k","type":"ordinal","scale":{"domain":[0,1,2,3,4],"range":["#0000ff","#00ffff","#00ff00","#ffff00","#ff0000"]},"legend":null},"detail":{"field":"r"}}},{"data":{"values":[{"m":-2,"h":107.2,"t":"(f)"}]},"mark":{"type":"text","font":"Liberation Serif","fontWeight":"bold","fontSize":7,"align":"left","baseline":"middle"},"encoding":{"x":{"field":"m","type":"quantitative"},"y":{"field":"h","type":"quantitative"},"text":{"field":"t"}}},{"data":{"values":[{"m":6.43,"h":107,"t":"Meridional wind / no solar forcing"}]},"mark":{"type":"text","fontSize":4.6,"color":"#222","align":"center","baseline":"middle"},"encoding":{"x":{"field":"m","type":"quantitative"},"y":{"field":"h","type":"quantitative"},"text":{"field":"t"}}}]},
{"width":47,"height":82,"view":{"stroke":null},"layer":[{"data":{"name":"ls"},"mark":"rect","encoding":{"x":{"datum":0,"type":"quantitative","scale":{"domain":[0,47]},"axis":null},"x2":{"datum":5.3},"y":{"field":"v0","type":"quantitative","scale":{"domain":[-0.328,2.12],"reverse":true,"nice":false,"zero":false},"axis":null},"y2":{"field":"v1"},"fill":{"field":"k","type":"ordinal","scale":{"domain":[0,1,2,3,4],"range":["#0000ff","#00ffff","#00ff00","#ffff00","#ff0000"]},"legend":null}}},{"data":{"name":"lst"},"mark":{"type":"text","align":"left","baseline":"middle","fontSize":4.6,"color":"#222"},"encoding":{"x":{"datum":7,"type":"quantitative"},"y":{"field":"v","type":"quantitative"},"text":{"field":"t"}}},{"data":{"values":[{"v":-0.21,"t":"m/s"}]},"mark":{"type":"text","align":"left","baseline":"middle","fontSize":4.2,"color":"#222"},"encoding":{"x":{"datum":0,"type":"quantitative"},"y":{"field":"v","type":"quantitative"},"text":{"field":"t"}}}]}
]}
